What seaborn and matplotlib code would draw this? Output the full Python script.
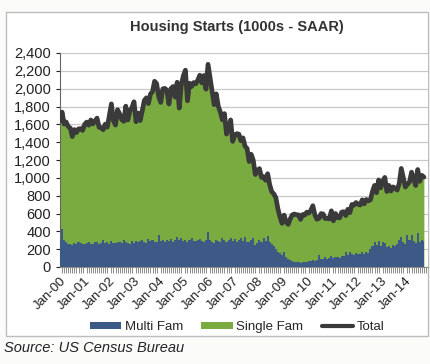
import numpy as np
import pandas as pd
import matplotlib
matplotlib.use("Agg")
import matplotlib.pyplot as plt
import seaborn as sns
from matplotlib.patches import Patch, Rectangle
from matplotlib.lines import Line2D
from matplotlib.ticker import MultipleLocator, FuncFormatter

# ---------------- data (thousands, SAAR, monthly Jan-2000 .. Oct-2014) ----------------
total = [
    1636, 1737, 1604, 1626, 1575, 1559, 1463, 1541, 1507, 1549, 1551, 1532,
    1600, 1625, 1590, 1649, 1605, 1636, 1670, 1567, 1562, 1540, 1602, 1568,
    1698, 1829, 1642, 1592, 1764, 1717, 1655, 1633, 1804, 1648, 1753, 1788,
    1853, 1629, 1726, 1643, 1751, 1867, 1897, 1833, 1939, 1967, 2083, 2057,
    1911, 1846, 1998, 2003, 1981, 1828, 2002, 2024, 1905, 2072, 1782, 2042,
    2144, 2207, 1864, 2061, 2025, 2068, 2054, 2095, 2151, 2065, 2147, 1994,
    2273, 2119, 1969, 1821, 1942, 1802, 1737, 1650, 1720, 1491, 1570, 1649,
    1409, 1480, 1495, 1490, 1415, 1448, 1354, 1330, 1183, 1264, 1197, 1037,
    1084, 1103, 1005, 1013, 973, 1046, 923, 844, 820, 777, 652, 560,
    490, 582, 505, 478, 540, 585, 594, 586, 585, 534, 588, 581,
    614, 604, 636, 687, 583, 536, 546, 599, 594, 543, 545, 539,
    630, 518, 600, 553, 551, 615, 620, 577, 647, 610, 701, 694,
    723, 704, 695, 753, 708, 757, 741, 754, 847, 915, 833, 976,
    888, 962, 1005, 847, 915, 852, 898, 883, 863, 936, 1105, 1003,
    897, 928, 953, 1063, 995, 914, 1093, 961, 1028, 1009,
]
multi = [
    300, 425, 300, 285, 262, 255, 250, 268, 262, 278, 265, 258,
    262, 270, 282, 255, 262, 275, 280, 262, 272, 298, 270, 278,
    258, 290, 268, 272, 276, 285, 270, 300, 282, 268, 262, 290,
    268, 295, 278, 290, 305, 280, 272, 310, 288, 300, 285, 282,
    358, 290, 300, 282, 298, 295, 310, 285, 300, 336, 300, 330,
    290, 305, 285, 300, 320, 292, 288, 300, 310, 295, 282, 298,
    392, 300, 285, 268, 300, 288, 278, 320, 298, 285, 300, 325,
    290, 318, 280, 300, 330, 295, 336, 282, 280, 305, 330, 250,
    270, 300, 280, 320, 290, 347, 285, 260, 240, 200, 170, 160,
    130, 168, 110, 90, 80, 70, 60, 55, 60, 50, 55, 60,
    60, 62, 70, 80, 62, 75, 134, 85, 90, 110, 95, 100,
    120, 100, 110, 112, 105, 125, 120, 168, 130, 168, 150, 140,
    160, 145, 150, 170, 150, 165, 160, 200, 230, 285, 250, 290,
    240, 280, 270, 220, 240, 213, 246, 230, 260, 300, 340, 280,
    260, 358, 300, 358, 290, 270, 380, 280, 300, 290,
]
tick_labels = ["Jan-00", "Jan-01", "Jan-02", "Jan-03", "Jan-04", "Jan-05", "Jan-06",
               "Jan-07", "Jan-08", "Jan-09", "Jan-10", "Jan-11", "Jan-12", "Jan-13", "Jan-14"]
series_names = ["Multi Fam", "Single Fam", "Total"]

df = pd.DataFrame({"month": np.arange(len(total)), "total": total, "multi": multi})

# ---------------- style ----------------
sns.set_style("white")
plt.rcParams["font.family"] = ["Liberation Sans", "DejaVu Sans"]

C_MULTI = "#3d5a86"
C_SINGLE = "#7aab40"
C_TOTAL = "#3a3a3a"

fig = plt.figure(figsize=(4.30, 3.64), dpi=100)
fig.patch.set_facecolor("#fbfbfa")
# outer chart frame (behind the axes)
frame = Rectangle((6 / 430, 1 - 336 / 364), 422 / 430, (336 - 12) / 364,
                  transform=fig.transFigure, facecolor="white",
                  edgecolor="#bdbdbd", lw=1.0, zorder=-10)
fig.patches.append(frame)

ax = fig.add_axes([60 / 430, 1 - 267 / 364, (428 - 60) / 430, (267 - 53) / 364])
ax.set_zorder(1)
ax.set_facecolor("white")

# green single-family area up to the total, multi-family area on top of it
ax.fill_between(df["month"], 0, df["total"], color=C_SINGLE, lw=0, zorder=2)
ax.fill_between(df["month"], 0, df["multi"], step="mid", color=C_MULTI, lw=0, zorder=3)
sns.lineplot(data=df, x="month", y="total", ax=ax, color=C_TOTAL, lw=3.4, zorder=4,
             legend=False)

ax.set_xlim(0, 179)
ax.set_ylim(0, 2400)
ax.yaxis.set_major_locator(MultipleLocator(200))
ax.yaxis.set_major_formatter(FuncFormatter(lambda v, p: f"{int(v):,}"))
ax.grid(axis="y", color="#c8c8c8", lw=0.9, zorder=1)
ax.set_axisbelow(True)

ax.set_xticks(np.arange(0, 169, 12))
ax.set_xticklabels(tick_labels, rotation=45, ha="right", rotation_mode="anchor")
ax.set_xticks(np.arange(0, 179, 1), minor=True)
ax.tick_params(axis="x", which="major", length=0, labelsize=9.5, pad=6, colors="#222222")
ax.tick_params(axis="x", which="minor", length=4, width=0.6, color="#777777",
               direction="out", bottom=True)
ax.tick_params(axis="y", length=3, labelsize=10.5, colors="#222222", left=True, width=0.8)

for s in ["top", "right"]:
    ax.spines[s].set_visible(False)
ax.spines["left"].set_color("#666666")
ax.spines["bottom"].set_color("#888888")
ax.set_xlabel("")
ax.set_ylabel("")

fig.text(237 / 430, 1 - 27 / 364, "Housing Starts (1000s - SAAR)", fontsize=10.5,
         fontweight="bold", color="#333333", ha="center", va="center")

handles = [Patch(facecolor=C_MULTI, edgecolor="none"),
           Patch(facecolor=C_SINGLE, edgecolor="none"),
           Line2D([0], [0], color=C_TOTAL, lw=3)]
fig.legend(handles, series_names, loc="center", bbox_to_anchor=(237 / 430, 1 - 327 / 364),
           ncol=3, frameon=False, fontsize=9.5, handlelength=2.4, handleheight=0.45,
           columnspacing=1.4, handletextpad=0.25)

fig.text(4 / 430, 1 - 348 / 364, "Source: US Census Bureau", fontsize=10.5,
         style="italic", color="#222222", va="center", ha="left")

fig.savefig("out.png", dpi=100)
